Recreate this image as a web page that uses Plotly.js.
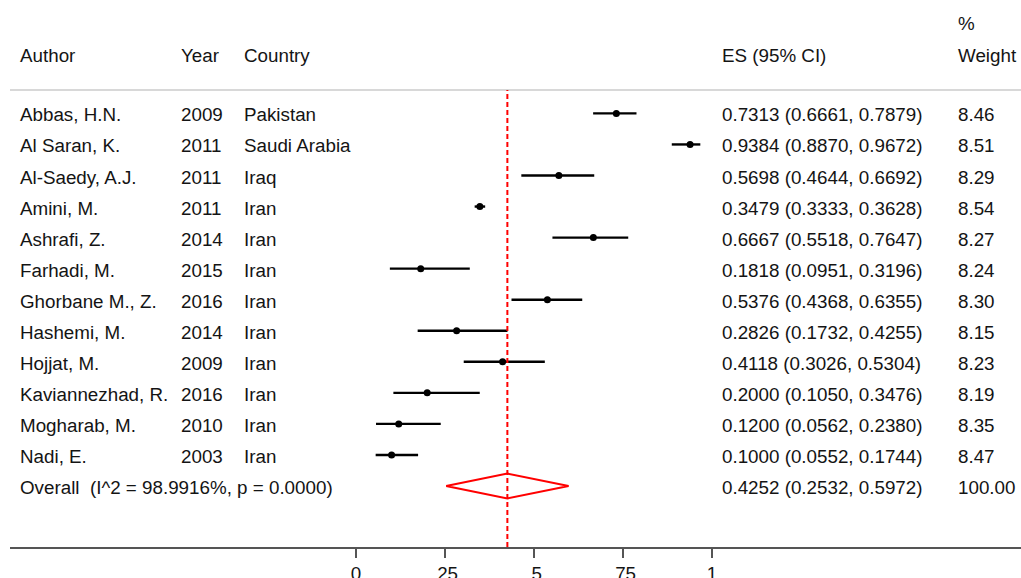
<!DOCTYPE html>
<html>
<head>
<meta charset="utf-8">
<script src="https://cdn.plot.ly/plotly-3.0.1.min.js"></script>
<style>html,body{margin:0;padding:0;background:#fff;}#chart{width:1021px;height:578px;}</style>
</head>
<body>
<div id="chart"></div>
<script>
const authors = ["Abbas, H.N.", "Al Saran, K.", "Al-Saedy, A.J.", "Amini, M.", "Ashrafi, Z.", "Farhadi, M.", "Ghorbane M., Z.", "Hashemi, M.", "Hojjat, M.", "Kaviannezhad, R.", "Mogharab, M.", "Nadi, E."];
const years = ["2009", "2011", "2011", "2011", "2014", "2015", "2016", "2014", "2009", "2016", "2010", "2003"];
const countries = ["Pakistan", "Saudi Arabia", "Iraq", "Iran", "Iran", "Iran", "Iran", "Iran", "Iran", "Iran", "Iran", "Iran"];
const es = [0.7313, 0.9384, 0.5698, 0.3479, 0.6667, 0.1818, 0.5376, 0.2826, 0.4118, 0.2000, 0.1200, 0.1000];
const ciLow = [0.6661, 0.8870, 0.4644, 0.3333, 0.5518, 0.0951, 0.4368, 0.1732, 0.3026, 0.1050, 0.0562, 0.0552];
const ciHigh = [0.7879, 0.9672, 0.6692, 0.3628, 0.7647, 0.3196, 0.6355, 0.4255, 0.5304, 0.3476, 0.2380, 0.1744];
const weights = ["8.46", "8.51", "8.29", "8.54", "8.27", "8.24", "8.30", "8.15", "8.23", "8.19", "8.35", "8.47"];
const overallLabel = "Overall\u00a0\u00a0(I^2 = 98.9916%, p = 0.0000)";
const overallES = 0.4252, overallLow = 0.2532, overallHigh = 0.5972;
const overallWeight = "100.00";
const tickVals = [0, 0.25, 0.5, 0.75, 1];
const tickText = ["0", ".25", ".5", ".75", "1"];

// layout geometry (pixels)
const W = 1021, H = 578, mL = 10, mB = 31;
const x0px = 356, unitPx = 356;
const row0px = 113.4, rowPx = 31.05;
const plotH = H - mB;
const rowFromPx = p => (p - row0px) / rowPx;
const paperX = p => (p - mL) / (W - mL);
const fmt = v => v.toFixed(4);

const n = es.length;
const rows = es.map((_, i) => i);
const fontF = "Liberation Sans, Arial, sans-serif";
const fs = 18.8;
const tc = "#141414";

const traces = [{
  type: "scatter", mode: "markers",
  x: es, y: rows,
  marker: {color: "#000", size: 7},
  error_x: {type: "data", symmetric: false,
    array: es.map((v, i) => ciHigh[i] - v),
    arrayminus: es.map((v, i) => v - ciLow[i]),
    width: 0, thickness: 2.4, color: "#000"},
  hoverinfo: "skip", showlegend: false
}, {
  type: "scatter", mode: "lines",
  x: [overallLow, overallES, overallHigh, overallES, overallLow],
  y: [n, n - 0.4, n, n + 0.4, n],
  line: {color: "#ff0000", width: 2},
  hoverinfo: "skip", showlegend: false
}];

const ann = [];
function addText(px, row, text, anchor) {
  ann.push({xref: "paper", yref: "y", x: paperX(px - 2), y: row, text: text,
    showarrow: false, xanchor: anchor || "left", yanchor: "middle", yshift: -1.5,
    font: {family: fontF, size: fs, color: tc}});
}
const hdrRow = rowFromPx(54), pctRow = rowFromPx(22);
addText(20, hdrRow, "Author");
addText(181, hdrRow, "Year");
addText(244, hdrRow, "Country");
addText(722, hdrRow, "ES (95% CI)");
addText(958, pctRow, "%");
addText(958, hdrRow, "Weight");
for (let i = 0; i < n; i++) {
  addText(20, i, authors[i]);
  addText(181, i, years[i]);
  addText(244, i, countries[i]);
  addText(722, i, fmt(es[i]) + " (" + fmt(ciLow[i]) + ", " + fmt(ciHigh[i]) + ")");
  addText(958, i, weights[i]);
}
addText(20, n, overallLabel);
addText(722, n, fmt(overallES) + " (" + fmt(overallLow) + ", " + fmt(overallHigh) + ")");
addText(958, n, overallWeight);

const sepPaperY = (plotH - 90) / plotH;
const layout = {
  width: W, height: H,
  margin: {l: mL, r: 0, t: 0, b: mB, pad: 0},
  paper_bgcolor: "#fff", plot_bgcolor: "#fff",
  showlegend: false,
  xaxis: {
    range: [(mL - x0px) / unitPx, (W - x0px) / unitPx],
    showgrid: false, zeroline: false,
    showline: true, linecolor: "#555", linewidth: 1.6,
    ticks: "outside", ticklen: 9, tickwidth: 1.4, tickcolor: "#555",
    tickvals: tickVals, ticktext: tickText,
    tickfont: {family: fontF, size: fs, color: tc},
    fixedrange: true
  },
  yaxis: {
    range: [rowFromPx(plotH), rowFromPx(0)],
    showgrid: false, zeroline: false, showline: false,
    showticklabels: false, ticks: "", fixedrange: true
  },
  shapes: [
    {type: "line", xref: "paper", yref: "paper", x0: 0, x1: 1, y0: sepPaperY, y1: sepPaperY,
     line: {color: "#d8d8d8", width: 2}},
    {type: "line", xref: "x", yref: "paper", x0: overallES, x1: overallES, y0: 0, y1: sepPaperY,
     line: {color: "#ff0000", width: 2, dash: "5px,3px"}}
  ],
  annotations: ann
};
Plotly.newPlot("chart", traces, layout, {displayModeBar: false, staticPlot: true});
</script>
</body>
</html>
